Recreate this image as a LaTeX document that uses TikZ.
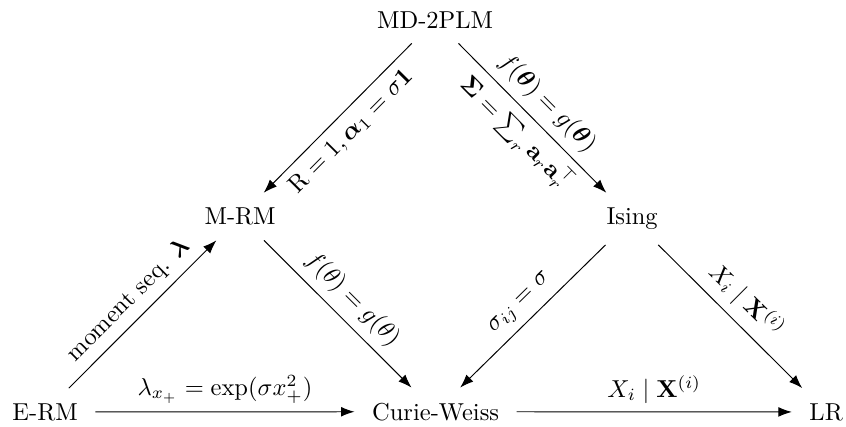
\documentclass[tikz,border=0pt]{standalone}
\usepackage{amsmath,amssymb,bm}
\usetikzlibrary{arrows.meta}
\begin{document}
\begin{tikzpicture}[
  model/.style={inner xsep=7pt, inner ysep=6pt, anchor=base},
  arr/.style={-{Latex[length=5.5pt,width=4pt]}, line width=0.4pt},
  lab/.style={sloped, midway}
]
\useasboundingbox (0,0) rectangle (345.3pt,173.9pt);
\node[model] (md) at (177.6pt,162.4pt) {MD-2PLM};
\node[model] (mrm) at (98pt,82.2pt) {M-RM};
\node[model] (ising) at (258pt,82.2pt) {Ising};
\node[model] (erm) at (18.4pt,2.45pt) {E-RM};
\node[model] (cw) at (177.8pt,2.45pt) {Curie-Weiss};
\node[model] (lr) at (337.2pt,2.45pt) {LR};

\draw[arr] (md) -- node[lab, below] {$\mathrm{R}=1,\boldsymbol{\alpha}_1=\sigma\mathbf{1}$} (mrm);
\draw[arr] (md) -- node[lab, above] {$f(\boldsymbol{\theta})=g(\boldsymbol{\theta})$}
                   node[lab, below] {$\boldsymbol{\Sigma}=\sum_r\mathbf{a}_r\mathbf{a}_r^\top$} (ising);
\draw[arr] (mrm) -- node[lab, above] {$f(\theta)=g(\theta)$} (cw);
\draw[arr] (erm) -- node[lab, above] {moment seq. $\boldsymbol{\lambda}$} (mrm);
\draw[arr] (erm) -- node[above] {$\lambda_{x_+}=\exp(\sigma x_+^2)$} (cw);
\draw[arr] (ising) -- node[lab, above] {$\sigma_{ij}=\sigma$} (cw);
\draw[arr] (ising) -- node[lab, above] {$X_i\mid\mathbf{X}^{(i)}$} (lr);
\draw[arr] (cw) -- node[above] {$X_i\mid\mathbf{X}^{(i)}$} (lr);
\end{tikzpicture}
\end{document}
